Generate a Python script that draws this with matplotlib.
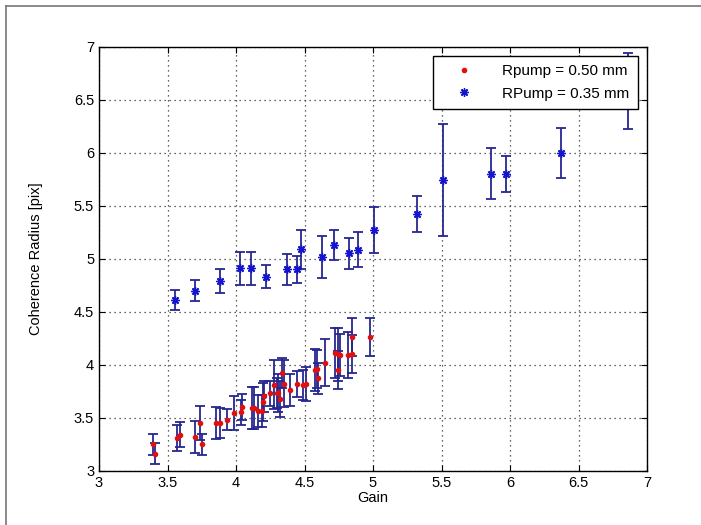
import numpy as np
import matplotlib.pyplot as plt
from matplotlib.lines import Line2D

plt.rcParams['font.family'] = ['Liberation Sans', 'DejaVu Sans']

# Rpump = 0.50 mm
gain_50 = [3.392, 3.409, 3.567, 3.591, 3.701, 3.737, 3.750, 3.854, 3.883, 3.937,
           3.985, 4.034, 4.041, 4.114, 4.134, 4.163, 4.187, 4.199, 4.207, 4.248,
           4.277, 4.300, 4.309, 4.321, 4.333, 4.350, 4.394, 4.447, 4.491, 4.509,
           4.577, 4.594, 4.600, 4.650, 4.723, 4.747, 4.747, 4.759, 4.820, 4.850,
           4.850, 4.978]
radius_50 = [3.25, 3.16, 3.31, 3.34, 3.32, 3.45, 3.25, 3.45, 3.45, 3.48,
             3.54, 3.55, 3.60, 3.59, 3.59, 3.56, 3.56, 3.65, 3.70, 3.73,
             3.81, 3.73, 3.73, 3.68, 3.92, 3.82, 3.76, 3.82, 3.81, 3.82,
             3.95, 3.96, 3.87, 4.02, 4.11, 4.10, 3.95, 4.09, 4.09, 4.10,
             4.26, 4.26]
err_50 = [0.10, 0.10, 0.12, 0.12, 0.15, 0.16, 0.10, 0.15, 0.14, 0.10,
          0.16, 0.12, 0.12, 0.20, 0.20, 0.15, 0.15, 0.18, 0.15, 0.12,
          0.23, 0.14, 0.18, 0.17, 0.14, 0.22, 0.15, 0.12, 0.14, 0.16,
          0.20, 0.18, 0.15, 0.22, 0.24, 0.25, 0.18, 0.20, 0.22, 0.18,
          0.18, 0.18]

# RPump = 0.35 mm
gain_35 = [3.555, 3.699, 3.882, 4.032, 4.113, 4.218, 4.374, 4.447, 4.474, 4.626,
           4.715, 4.827, 4.893, 5.010, 5.319, 5.513, 5.861, 5.971, 6.370, 6.864]
radius_35 = [4.61, 4.70, 4.79, 4.91, 4.91, 4.83, 4.90, 4.90, 5.09, 5.015,
             5.13, 5.05, 5.085, 5.27, 5.42, 5.74, 5.80, 5.80, 6.00, 6.585]
err_35 = [0.095, 0.10, 0.117, 0.155, 0.155, 0.11, 0.145, 0.13, 0.185, 0.20,
          0.145, 0.15, 0.165, 0.22, 0.17, 0.527, 0.24, 0.17, 0.237, 0.36]

bar_col = '#262690'
ticks = ['3', '3.5', '4', '4.5', '5', '5.5', '6', '6.5', '7']

fig = plt.figure(figsize=(7.01, 5.25), dpi=100)
ax = fig.add_axes([99/701, 1 - 470.7/525, 548/701, 424/525])

ax.errorbar(gain_50, radius_50, yerr=err_50, fmt='none', ecolor=bar_col,
            elinewidth=1.3, capsize=3.5, capthick=1.3, zorder=2)
ax.errorbar(gain_35, radius_35, yerr=err_35, fmt='none', ecolor=bar_col,
            elinewidth=1.3, capsize=3.5, capthick=1.3, zorder=2)
ax.plot(gain_50, radius_50, '.', color='#e01010', markersize=6, zorder=3,
        label='Rpump = 0.50 mm')
ax.plot(gain_35, radius_35, linestyle='none', marker=(8, 2, 0), color='#1515d0',
        markersize=6, markeredgewidth=1.0, zorder=3, label='RPump = 0.35 mm')

ax.set_xlim(3, 7)
ax.set_ylim(3, 7)
ax.set_xticks(np.arange(3, 7.01, 0.5))
ax.set_yticks(np.arange(3, 7.01, 0.5))
ax.set_xticklabels(ticks)
ax.set_yticklabels(ticks)
ax.tick_params(direction='in', top=True, right=True, length=4, labelsize=10.5)
ax.grid(True, linestyle=(0, (1, 3)), color='#333333', linewidth=0.9)
ax.set_axisbelow(True)
for s in ax.spines.values():
    s.set_linewidth(1.0)

ax.set_xlabel('Gain', fontsize=10.5, labelpad=1)
ax.set_ylabel('Coherence Radius [pix]', fontsize=10.5, labelpad=22)

leg = ax.legend(loc='upper right', fontsize=11, frameon=True, fancybox=False,
                framealpha=1, edgecolor='black', borderaxespad=0.6,
                handletextpad=1.0, borderpad=0.55, labelspacing=0.55,
                handlelength=3.0)
leg.get_frame().set_linewidth(1.0)
leg.set_zorder(5)

# figure frame (top and left edges visible)
fig.add_artist(Line2D([6/701, 6/701], [0, 1 - 6/525], color='#777777', lw=1.2))
fig.add_artist(Line2D([6/701, 1], [1 - 6/525, 1 - 6/525], color='#777777', lw=1.2))

fig.savefig('out.png', dpi=100)
